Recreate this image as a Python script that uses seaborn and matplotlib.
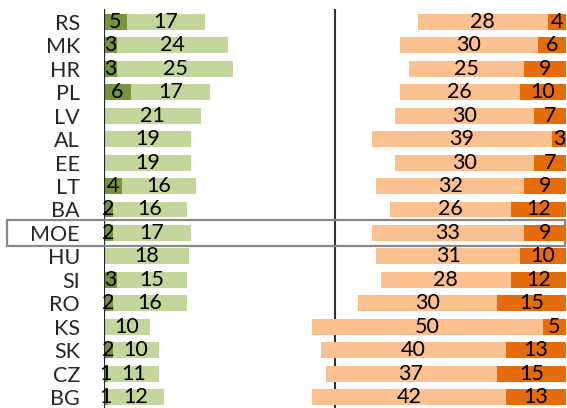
import matplotlib
matplotlib.use("Agg")
import matplotlib.pyplot as plt
from matplotlib.patches import Rectangle
import seaborn as sns
import pandas as pd

countries = ["RS", "MK", "HR", "PL", "LV", "AL", "EE", "LT", "BA", "MOE",
             "HU", "SI", "RO", "KS", "SK", "CZ", "BG"]
dark_green = [5, 3, 3, 6, 0, 0, 0, 4, 2, 2, 0.4, 3, 2, 0, 2, 1, 1]
light_green = [17, 24, 25, 17, 21, 19, 19, 16, 16, 17, 18, 15, 16, 10, 10, 11, 12]
light_orange = [28, 30, 25, 26, 30, 39, 30, 32, 26, 33, 31, 28, 30, 50, 40, 37, 42]
dark_orange = [4, 6, 9, 10, 7, 3, 7, 9, 12, 9, 10, 12, 15, 5, 13, 15, 13]
highlight = "MOE"

C_DG, C_LG = "#77933C", "#C3D69B"
C_LO, C_DO = "#FAC090", "#E46C0A"

sns.set_theme(style="white")
plt.rcParams["font.family"] = ["Lato", "DejaVu Sans"]

df = pd.DataFrame({
    "country": countries,
    "dg": dark_green,
    "lg": light_green,
    "lo": light_orange,
    "do": dark_orange,
})
df["green_total"] = df["dg"] + df["lg"]
df["orange_total"] = df["lo"] + df["do"]

fig = plt.figure(figsize=(5.67, 4.08), dpi=100)
ax = fig.add_axes([103.5 / 567, 0.0, (566 - 103.5) / 567, 1 - 9 / 408])

# left block grows from 0, right block grows leftwards from 100
ax.axvline(50, color="#303030", lw=1.5, zorder=0)

sns.barplot(data=df, y="country", x="green_total", color=C_LG, orient="h",
            width=0.68, linewidth=0, saturation=1, ax=ax, zorder=2)
sns.barplot(data=df, y="country", x="dg", color=C_DG, orient="h",
            width=0.68, linewidth=0, saturation=1, ax=ax, zorder=3)

ax2 = ax.twiny()
sns.barplot(data=df, y="country", x="orange_total", color=C_LO, orient="h",
            width=0.68, linewidth=0, saturation=1, ax=ax2, zorder=2)
sns.barplot(data=df, y="country", x="do", color=C_DO, orient="h",
            width=0.68, linewidth=0, saturation=1, ax=ax2, zorder=3)

ax.axvline(0, color="#262626", lw=1.6, zorder=4)

ax.set_xlim(0, 100)
ax2.set_xlim(100, 0)
n = len(countries)
ax.set_ylim(n - 0.53, -0.555)
ax2.set_ylim(n - 0.53, -0.555)

fs = 15.5
for i, row in df.iterrows():
    if row["dg"] >= 1:
        ax.text(row["dg"] / 2, i, f"{row['dg']:.0f}", ha="center", va="center",
                fontsize=fs, color="black", zorder=5)
    ax.text(row["dg"] + row["lg"] / 2, i, f"{row['lg']:.0f}", ha="center",
            va="center", fontsize=fs, color="black", zorder=5)
    ax2.text(row["do"] + row["lo"] / 2, i, f"{row['lo']:.0f}", ha="center",
             va="center", fontsize=fs, color="black", zorder=5)
    ax2.text(row["do"] / 2, i, f"{row['do']:.0f}", ha="center", va="center",
             fontsize=fs, color="black", zorder=5)

# country names on the left
ax.set_yticks(range(n))
ax.set_yticklabels(countries, fontsize=fs)
ax.tick_params(axis="y", length=0, pad=17)
ax.tick_params(axis="x", length=0, labelbottom=False)
ax2.tick_params(axis="x", length=0, labeltop=False)
ax2.tick_params(axis="y", length=0)
ax.set_xlabel("")
ax.set_ylabel("")
ax2.set_xlabel("")
ax2.set_ylabel("")
for a in (ax, ax2):
    for s in a.spines.values():
        s.set_visible(False)
    a.patch.set_alpha(0)

# outline the highlighted row
k = countries.index(highlight)
ax.add_patch(Rectangle((-20.8, k - 0.555), 120.6, 1.11, fill=False,
                       edgecolor="#888888", lw=1.6, clip_on=False, zorder=6))

fig.savefig("out.png", dpi=100)
